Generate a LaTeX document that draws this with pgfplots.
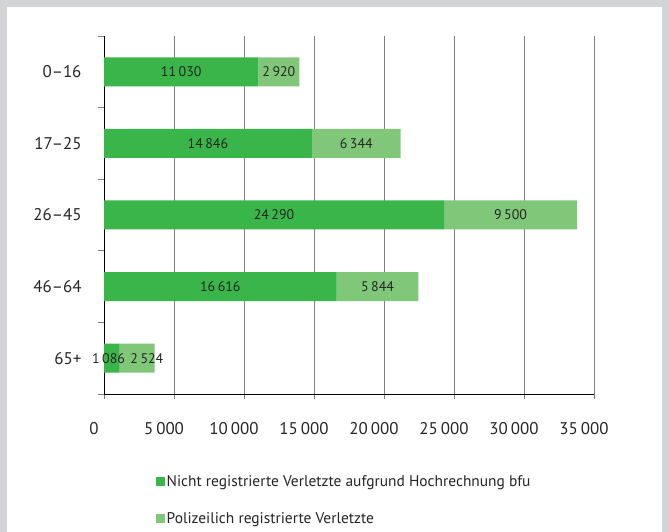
\documentclass[border=0pt]{standalone}
\usepackage{pgfplots}
\pgfplotsset{compat=1.18}
\usepackage{fontspec}
\setmainfont{PT Sans}
\definecolor{dg}{HTML}{39B54A}
\definecolor{lg}{HTML}{80C77A}
\definecolor{framegray}{HTML}{D3D4D6}
\definecolor{gridgray}{HTML}{7F7F7F}
\definecolor{txt}{HTML}{262626}
\begin{document}
\begin{tikzpicture}[x=1bp,y=1bp]
\fill[framegray] (0,0) rectangle (669,532);
\fill[white] (7,0) rectangle (662,525);
\begin{axis}[
  at={(104bp,138bp)}, anchor=south west,
  scale only axis, width=490bp, height=358bp,
  xmin=0, xmax=35000, ymin=-0.5, ymax=4.5, y dir=reverse,
  xbar stacked, bar width=29bp,
  axis lines=left,
  axis line style={-, black, line width=0.8bp},
  x axis line style={-}, y axis line style={-},
  xtick={0,5000,...,35000}, scaled x ticks=false,
  xmajorgrids, grid style={gridgray, line width=0.8bp},
  tick align=outside, major tick length=5bp, minor tick length=6bp,
  tick style={gridgray, line width=0.8bp},
  ytick={0,1,2,3,4},
  yticklabels={0–16,17–25,26–45,46–64,65+},
  major y tick style={draw=none},
  minor ytick={-0.5,0.5,...,4.5},
  ticklabel style={font=\fontsize{17}{19}\selectfont, text=txt},
  xticklabel style={yshift=-20bp, xshift=-10bp},
  yticklabel style={xshift=-14bp},
  /pgf/number format/.cd, 1000 sep={\kern0.18em}, assume math mode=true,
  /pgfplots/.cd,
  point meta=explicit symbolic,
  nodes near coords,
  every node near coord/.append style={anchor=center, font=\fontsize{14}{16}\selectfont, text=txt},
  legend cell align=left,
  legend style={at={(0.1,-0.218)}, anchor=north west, draw=none, fill=none,
    font=\fontsize{15.5}{18}\selectfont, text=txt, row sep=21bp,
    nodes={inner sep=1.5bp}},
  legend image code/.code={\fill[#1] (0bp,-4.5bp) rectangle (9bp,4.5bp);},
]
\addplot[fill=dg, draw=none] coordinates {
  (11030,0) [11\kern0.18em030]
  (14846,1) [14\kern0.18em846]
  (24290,2) [24\kern0.18em290]
  (16616,3) [16\kern0.18em616]
  (1086,4)  [1\kern0.18em086\kern6bp]};
\addlegendentry{Nicht registrierte Verletzte aufgrund Hochrechnung bfu}
\addplot[fill=lg, draw=none] coordinates {
  (2920,0) [2\kern0.18em920]
  (6344,1) [6\kern0.18em344]
  (9500,2) [9\kern0.18em500]
  (5844,3) [5\kern0.18em844]
  (2524,4) [\kern20bp2\kern0.18em524]};
\addlegendentry{Polizeilich registrierte Verletzte}
\end{axis}
\end{tikzpicture}
\end{document}
